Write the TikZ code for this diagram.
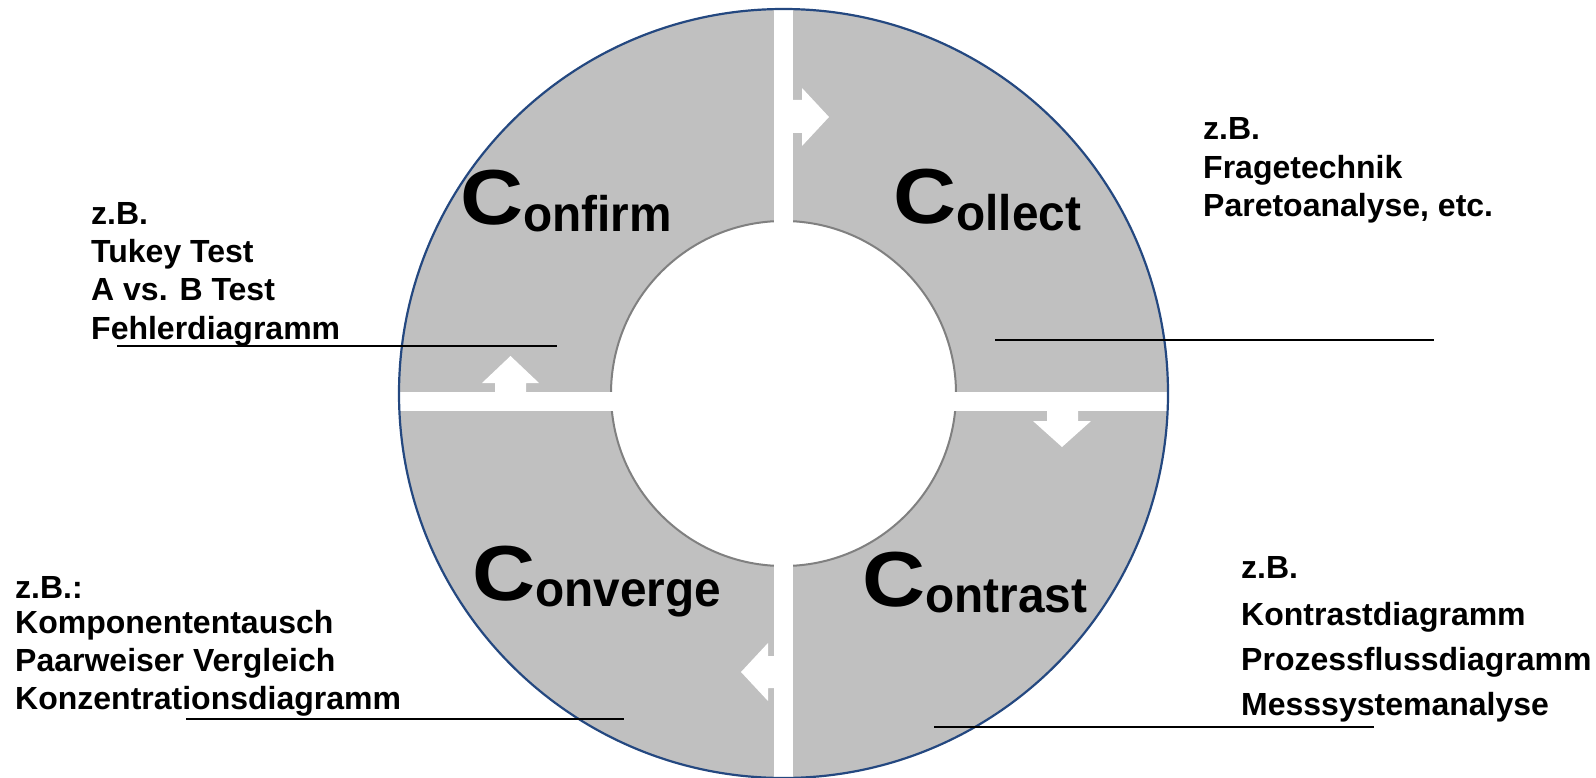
\documentclass[tikz,border=0pt]{standalone}
\usepackage{fontspec}
\usepackage{graphicx}
\setmainfont{Liberation Sans}

\definecolor{ringgray}{RGB}{192,192,192}
\definecolor{rimblue}{RGB}{36,72,128}
\definecolor{hubgray}{RGB}{128,128,128}

% a phase name: large, wide initial C, the rest smaller, narrower and set slightly lower
\newcommand\phaseword[1]{\scalebox{1.12}[1]{\fontsize{78}{78}\selectfont C}\raisebox{-6.5pt}{\scalebox{0.955}[1]{\fontsize{50}{50}\selectfont #1}}}

\tikzset{
  notetext/.style={anchor=base west, inner sep=0pt, font=\fontsize{32}{38}\selectfont\bfseries},
  phase/.style={anchor=base west, inner sep=0pt, font=\bfseries},
  leader/.style={black, line width=1.6},
  flowarrow/.style={fill=white, draw=none},
}

\begin{document}
\begin{tikzpicture}[x=1pt,y=-1pt]
\useasboundingbox (0,0) rectangle (1596,778);
\clip (0,0) rectangle (1596,778);

\coordinate (O) at (783.5,393.5);

% ring
\fill[ringgray] (O) circle[radius=384.5];
\fill[white] (O) circle[radius=172.5];
\draw[hubgray, line width=2] (O) circle[radius=172.5];

% gaps between the four quadrants
\begin{scope}
  \clip (O) circle[radius=384.5];
  \fill[white] (774,0) rectangle (793,800);
  \fill[white] (390,392) rectangle (1180,411);
\end{scope}
\draw[rimblue, line width=2.2] (O) circle[radius=384.5];

% direction arrows in the gaps
\fill[flowarrow] (792,100) -- (802,100) -- (802,88) -- (829,117) -- (802,146) -- (802,133) -- (792,133) -- cycle;
\fill[flowarrow] (1047,410) -- (1047,421) -- (1033,421) -- (1062,447) -- (1091,421) -- (1078,421) -- (1078,410) -- cycle;
\fill[flowarrow] (775,656) -- (768,656) -- (768,643) -- (741,672) -- (768,701) -- (768,688) -- (775,688) -- cycle;
\fill[flowarrow] (495,393) -- (495,383) -- (482,383) -- (510.5,356) -- (539,383) -- (526,383) -- (526,393) -- cycle;

% phase names
\node[phase] (confirm)  at (460,225) {\phaseword{onfirm}};
\node[phase] (collect)  at (893,224) {\phaseword{ollect}};
\node[phase] (converge) at (472,600) {\phaseword{onverge}};
\node[phase] (contrast) at (862,606) {\phaseword{ontrast}};

% leader lines
\coordinate (cfA) at (117,346);  \coordinate (cfB) at (557,346);
\coordinate (clA) at (995,340);  \coordinate (clB) at (1434,340);
\coordinate (cvA) at (186,719);  \coordinate (cvB) at (624,719);
\coordinate (ctA) at (934,727);  \coordinate (ctB) at (1374,727);
\draw[leader] (cfA) -- (cfB);
\draw[leader] (clA) -- (clB);
\draw[leader] (cvA) -- (cvB);
\draw[leader] (ctA) -- (ctB);

% examples of methods
\node[notetext] (cf1) at (91,225)   {z.B.};
\node[notetext] (cf2) at (91,262.5) {Tukey Test};
\node[notetext] (cf3) at (91,300.5) {A vs. B Test};
\node[notetext] (cf4) at (91,339.5) {Fehlerdiagramm};

\node[notetext] (cl1) at (1203,140)   {z.B.};
\node[notetext] (cl2) at (1203,178.5) {Fragetechnik};
\node[notetext] (cl3) at (1203,217)   {Paretoanalyse, etc.};

\node[notetext] (cv1) at (15,598) {z.B.:};
\node[notetext] (cv2) at (15,633) {Komponententausch};
\node[notetext] (cv3) at (15,671) {Paarweiser Vergleich};
\node[notetext] (cv4) at (15,709) {Konzentrationsdiagramm};

\node[notetext] (ct1) at (1241,578.5) {z.B.};
\node[notetext] (ct2) at (1241,625) {Kontrastdiagramm};
\node[notetext] (ct3) at (1241,670.5) {Prozessflussdiagramm};
\node[notetext] (ct4) at (1241,715.5) {Messsystemanalyse};
\end{tikzpicture}
\end{document}
